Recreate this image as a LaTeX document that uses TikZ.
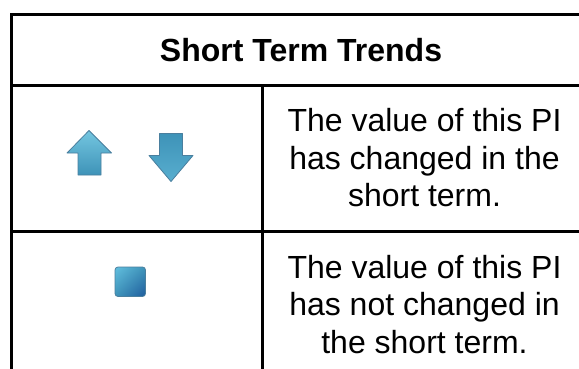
\documentclass[tikz,border=0pt]{standalone}
\usepackage{fontspec}
\usetikzlibrary{shadings}
\setmainfont{Liberation Sans}
\definecolor{arrowlight}{HTML}{74C6E0}
\definecolor{arrowmid}{HTML}{58AECF}
\definecolor{arrowdark}{HTML}{3E93B8}
\definecolor{edgeblue}{HTML}{4A7F9E}
\definecolor{squarelight}{HTML}{62BFDF}
\definecolor{squaredark}{HTML}{1F5C9E}
\tikzset{
  rule/.style={line width=3pt,black},
  body/.style={font=\fontsize{32}{37.5}\selectfont,align=center,text=black,inner sep=0pt},
  head/.style={font=\fontsize{32}{38}\selectfont\bfseries,text=black,inner sep=0pt},
  iconedge/.style={draw=edgeblue,line width=.8pt,line join=round},
}
\begin{document}
\begin{tikzpicture}[x=1pt,y=-1pt,line join=miter]
\useasboundingbox[fill=white] (0,0) rectangle (579,369);
% table lines
\coordinate (tl) at (11.5,14.7);
\coordinate (tr) at (579,14.7);
\coordinate (ml) at (11.5,85.5);
\coordinate (mr) at (579,85.5);
\coordinate (rl) at (11.5,231.5);
\coordinate (rr) at (579,231.5);
\coordinate (bl) at (11.5,369);
\coordinate (vt) at (262.5,85.5);
\coordinate (vb) at (262.5,369);
\draw[rule] (bl) -- (tl) -- (tr);
\draw[rule] (ml) -- (mr);
\draw[rule] (rl) -- (rr);
\draw[rule] (vt) -- (vb);
\node[head] (title) at (301,50) {Short Term Trends};
\node[body] (t1) at (424.5,158) {The value of this PI\\has changed in the\\short term.};
\node[body] (t2) at (424.5,304.5) {The value of this PI\\has not changed in\\the short term.};
% up arrow
\shade[top color=arrowlight,bottom color=arrowdark,iconedge]
  (89,130.5) -- (111.5,153) -- (101,153) -- (101,175) -- (78,175) -- (78,153) -- (67,153) -- cycle;
% down arrow
\shade[top color=arrowdark,bottom color=arrowmid,iconedge]
  (159.5,133.5) -- (182.5,133.5) -- (182.5,155.5) -- (193,155.5) -- (171,181.5) -- (149,155.5) -- (159.5,155.5) -- cycle;
% square
\shade[rounded corners=3pt,upper left=squarelight,lower right=squaredark,upper right=arrowdark,lower left=arrowdark,draw=edgeblue,line width=.8pt]
  (115,267) rectangle (145.5,296.5);
\end{tikzpicture}
\end{document}
